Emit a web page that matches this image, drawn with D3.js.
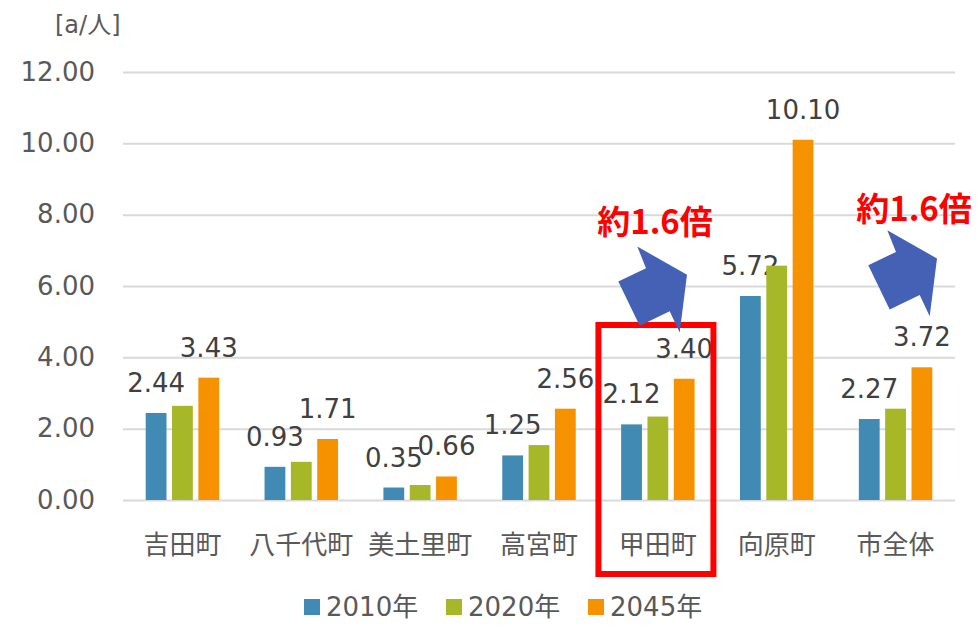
<!DOCTYPE html>
<html>
<head>
<meta charset="utf-8">
<script src="https://cdn.jsdelivr.net/npm/d3@7"></script>
<style>
  body { margin: 0; background: #fff; }
  text { font-family: Verdana, "DejaVu Sans", "Noto Sans CJK JP", sans-serif; }
</style>
</head>
<body>
<div id="chart"></div>
<script>
var categories = ['吉田町', '八千代町', '美土里町', '高宮町', '甲田町', '向原町', '市全体'];
var seriesNames = ['2010年', '2020年', '2045年'];
var values2010 = [2.44, 0.93, 0.35, 1.25, 2.12, 5.72, 2.27];
var values2020 = [2.64, 1.07, 0.42, 1.54, 2.34, 6.57, 2.56];
var values2045 = [3.43, 1.71, 0.66, 2.56, 3.40, 10.10, 3.72];
var yTicks = [0, 2, 4, 6, 8, 10, 12];
var colors = ['#418ab3', '#a6b727', '#f69200'];
var labelled = [true, false, true];
var noteText = '約1.6倍';

var chartWidth = 978;
var chartHeight = 628;
var plotLeft = 123, plotRight = 955, plotTop = 72, plotBottom = 500;

var svg = d3.select('#chart')
    .append('svg')
    .attr('width', chartWidth)
    .attr('height', chartHeight);

var allSeries = [values2010, values2020, values2045];

// Scales
var x0 = d3.scaleBand()
    .domain(categories)
    .range([plotLeft, plotRight]);

var x1 = d3.scaleBand()
    .domain(seriesNames)
    .range([-39.5, 39.5])
    .paddingInner(0.21)
    .paddingOuter(0.105);

var y = d3.scaleLinear()
    .domain([0, 12])
    .range([plotBottom, plotTop]);

// Grid + y axis
var axisY = d3.axisLeft(y)
    .tickValues(yTicks)
    .tickSize(-(plotRight - plotLeft))
    .tickPadding(28)
    .tickFormat(d3.format('.2f'));

var gy = svg.append('g')
    .attr('transform', 'translate(' + plotLeft + ',0)')
    .call(axisY);
gy.select('.domain').remove();
gy.selectAll('line').attr('stroke', '#d9d9d9').attr('stroke-width', 2);
gy.selectAll('text')
    .attr('fill', '#595959')
    .attr('font-size', 26)
    .attr('font-family', 'Verdana, "DejaVu Sans", sans-serif');

// unit label
svg.append('text')
    .attr('x', 55)
    .attr('y', 33)
    .attr('fill', '#595959')
    .attr('font-size', 24)
    .text('[a/人]');

// Bars
var groups = svg.append('g').selectAll('g')
    .data(categories)
    .enter()
    .append('g')
    .attr('transform', function(d) {
      return 'translate(' + (x0(d) + x0.bandwidth() / 2) + ',0)';
    });

seriesNames.forEach(function(s, si) {
  groups.append('rect')
      .attr('x', x1(s))
      .attr('width', x1.bandwidth())
      .attr('y', function(d, i) { return y(allSeries[si][i]); })
      .attr('height', function(d, i) { return plotBottom - y(allSeries[si][i]); })
      .attr('fill', colors[si]);
  if (labelled[si]) {
    groups.append('text')
        .attr('x', x1(s) + x1.bandwidth() / 2)
        .attr('y', function(d, i) { return y(allSeries[si][i]) - 21; })
        .attr('text-anchor', 'middle')
        .attr('fill', '#404040')
        .attr('font-size', 26)
        .text(function(d, i) { return allSeries[si][i].toFixed(2); });
  }
});

// Category labels
svg.append('g').selectAll('text')
    .data(categories)
    .enter()
    .append('text')
    .attr('x', function(d) { return x0(d) + x0.bandwidth() / 2; })
    .attr('y', 554)
    .attr('text-anchor', 'middle')
    .attr('fill', '#595959')
    .attr('font-size', 26)
    .style('font-family', '"Noto Sans CJK JP", sans-serif')
    .text(function(d) { return d; });

// Legend
var legendX = [304, 446, 588];
var legend = svg.append('g').selectAll('g')
    .data(seriesNames)
    .enter()
    .append('g')
    .attr('transform', function(d, i) { return 'translate(' + legendX[i] + ',599)'; });
legend.append('rect')
    .attr('width', 16)
    .attr('height', 16)
    .attr('fill', function(d, i) { return colors[i]; });
legend.append('text')
    .attr('x', 22)
    .attr('y', 17)
    .attr('fill', '#595959')
    .attr('font-size', 26)
    .text(function(d) { return d; });

// Annotations
var focus = '甲田町';
svg.append('rect')
    .attr('x', x0(focus))
    .attr('y', 325)
    .attr('width', 115)
    .attr('height', 249)
    .attr('fill', 'none')
    .attr('stroke', '#ff0000')
    .attr('stroke-width', 6);

var arrowShape = [[19.3, 0.5], [28, 22.2], [0.3, 35.5], [21.7, 79.7], [51.7, 65.2], [61.7, 86.5], [69, 28.8]];
var arrowPos = [[618, 246], [868, 229.7]];
svg.append('g').selectAll('path')
    .data(arrowPos)
    .enter()
    .append('path')
    .attr('transform', function(d) { return 'translate(' + d[0] + ',' + d[1] + ')'; })
    .attr('d', d3.line()(arrowShape) + 'Z')
    .attr('fill', '#4561b6');

var notePos = [[655, 234], [914, 221]];
svg.append('g').selectAll('text')
    .data(notePos)
    .enter()
    .append('text')
    .attr('x', function(d) { return d[0]; })
    .attr('y', function(d) { return d[1]; })
    .attr('text-anchor', 'middle')
    .attr('fill', '#ff0000')
    .attr('font-size', 33)
    .attr('font-weight', 'bold')
    .style('font-family', '"Noto Sans CJK JP", sans-serif')
    .text(noteText);
</script>
</body>
</html>
